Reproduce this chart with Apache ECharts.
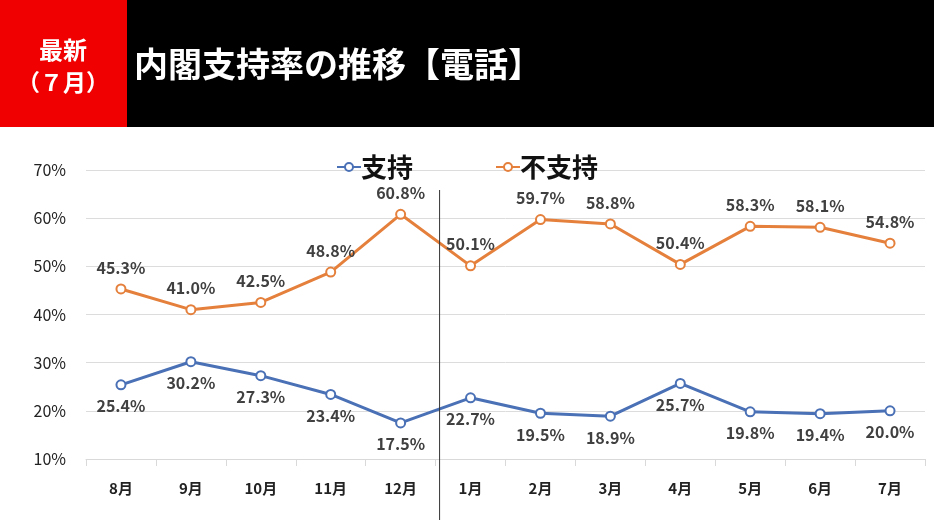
<!DOCTYPE html>
<html><head><meta charset="utf-8">
<script src="https://cdn.jsdelivr.net/npm/echarts@6/dist/echarts.min.js"></script>
<style>html,body{margin:0;padding:0;background:#fff}#c{width:934px;height:525px}</style>
</head><body><div id="c"></div>
<script>
var categories = ['8月','9月','10月','11月','12月','1月','2月','3月','4月','5月','6月','7月'];
var support = [25.4, 30.2, 27.3, 23.4, 17.5, 22.7, 19.5, 18.9, 25.7, 19.8, 19.4, 20.0];
var nonSupport = [45.3, 41.0, 42.5, 48.8, 60.8, 50.1, 59.7, 58.8, 50.4, 58.3, 58.1, 54.8];
var yTicks = [10, 20, 30, 40, 50, 60, 70];
var seriesNames = ['支持', '不支持'];
var titleText = '内閣支持率の推移【電話】';
var badgeLines = ['最新', '（７月）'];

var FONT = '"Noto Sans CJK JP", "Noto Sans", sans-serif';
var BLUE = '#4A70B5', ORANGE = '#E4803C';
var chart = echarts.init(document.getElementById('c'), null, {renderer: 'canvas'});

function lbl(pos) {
  return {show: true, position: pos, distance: 8, formatter: function(p){return p.value.toFixed(1) + '%';},
    fontFamily: FONT, fontSize: 16, fontWeight: 'bold', color: '#404040'};
}

var option = {
  backgroundColor: '#fff',
  animation: false,
  grid: {left: 86, right: 9, top: 170, bottom: 66},
  legend: {
    data: seriesNames, left: 331, top: 149, itemGap: 82, itemWidth: 24, itemHeight: 10,
    textStyle: {fontFamily: FONT, fontSize: 26, fontWeight: 'bold', color: '#111', padding: [0,0,0,-5]}
  },
  xAxis: {
    type: 'category', data: categories, boundaryGap: true,
    axisLine: {lineStyle: {color: '#d9d9d9', width: 1}},
    axisTick: {show: true, length: 7, lineStyle: {color: '#d9d9d9'}},
    axisLabel: {fontFamily: FONT, fontSize: 15, fontWeight: 'bold', color: '#222', margin: 22}
  },
  yAxis: {
    type: 'value', min: yTicks[0], max: yTicks[yTicks.length-1], interval: 10,
    axisLine: {show: false}, axisTick: {show: false},
    splitLine: {lineStyle: {color: '#dcdcdc', width: 1}},
    axisLabel: {fontFamily: FONT, fontSize: 16, color: '#222', margin: 20, formatter: '{value}%'}
  },
  series: [
    {name: seriesNames[0], type: 'line', data: support, symbol: 'emptyCircle', symbolSize: 9,
     lineStyle: {color: BLUE, width: 3}, itemStyle: {color: BLUE, borderWidth: 2.5}, label: lbl('bottom')},
    {name: seriesNames[1], type: 'line', data: nonSupport, symbol: 'emptyCircle', symbolSize: 9,
     lineStyle: {color: ORANGE, width: 3}, itemStyle: {color: ORANGE, borderWidth: 2.5}, label: lbl('top')}
  ],
  graphic: [
    {type: 'rect', left: 0, top: 0, shape: {width: 934, height: 127}, style: {fill: '#000'}, z: 10},
    {type: 'rect', left: 0, top: 0, shape: {width: 127, height: 127}, style: {fill: '#F00000'}, z: 11},
    {type: 'text', x: 63, y: 50, z: 12, style: {text: badgeLines[0], fill: '#fff', font: 'bold 24px ' + FONT, textAlign: 'center', textVerticalAlign: 'middle'}},
    {type: 'text', x: 63, y: 82, z: 12, style: {text: badgeLines[1], fill: '#fff', font: 'bold 23px ' + FONT, textAlign: 'center', textVerticalAlign: 'middle'}},
    {type: 'text', x: 134, y: 64, z: 12, style: {text: titleText, fill: '#fff', font: 'bold 34px ' + FONT, textAlign: 'left', textVerticalAlign: 'middle'}}
  ]
};
chart.setOption(option);
// vertical divider between 12月 and 1月
var p1 = chart.convertToPixel({gridIndex: 0}, [4, 10]);
var p2 = chart.convertToPixel({gridIndex: 0}, [5, 10]);
var xm = (p1[0] + p2[0]) / 2 + 4;
chart.setOption({graphic: option.graphic.concat([
  {type: 'line', z: 5, shape: {x1: xm, y1: 190, x2: xm, y2: 520}, style: {stroke: '#333', lineWidth: 1}}
])});
</script></body></html>
